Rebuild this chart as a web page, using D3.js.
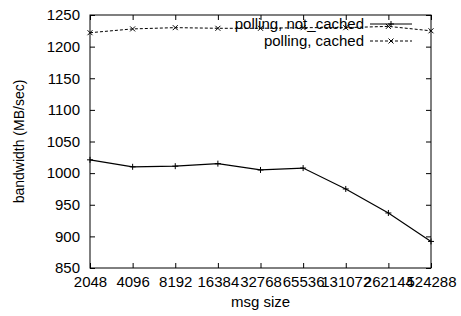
<!DOCTYPE html>
<html><head><meta charset="utf-8">
<script src="https://cdn.jsdelivr.net/npm/d3@7"></script>
<style>body{margin:0;background:#fff}svg{display:block}text{font-family:"Liberation Sans",Arial,sans-serif;fill:#000}</style>
</head><body>
<script>
const categories = ["2048","4096","8192","16384","32768","65536","131072","262144","524288"];
const notCached = [1021,1010,1011,1015,1005,1008,975,937,892];
const cached = [1222,1228,1230,1229,1229,1230,1230,1232,1225];
const yTicks = [850,900,950,1000,1050,1100,1150,1200,1250];
const seriesNames = ["polling, not_cached","polling, cached"];

const W=461,H=316, L=90,R=431,T=15,B=268;
const svg=d3.select("body").append("svg").attr("width",W).attr("height",H);
const x=d3.scalePoint().domain(categories).range([L,R]);
const y=d3.scaleLinear().domain([850,1250]).range([B,T]);
const fs="15px";

// axes
const gx=svg.append("g").attr("transform",`translate(0,${B})`)
  .call(d3.axisBottom(x).tickSizeInner(-5).tickSizeOuter(0).tickPadding(10));
const gxt=svg.append("g").attr("transform",`translate(0,${T})`)
  .call(d3.axisTop(x).tickSizeInner(-5).tickSizeOuter(0).tickFormat(""));
const gy=svg.append("g").attr("transform",`translate(${L},0)`)
  .call(d3.axisLeft(y).tickValues(yTicks).tickFormat(d3.format("d")).tickSizeInner(-5).tickSizeOuter(0).tickPadding(10));
const gyr=svg.append("g").attr("transform",`translate(${R},0)`)
  .call(d3.axisRight(y).tickValues(yTicks).tickSizeInner(-5).tickSizeOuter(0).tickFormat(""));
[gx,gxt,gy,gyr].forEach(g=>{g.select(".domain").remove();g.selectAll("line").attr("stroke","#000");g.selectAll("text").style("font-size",fs).style("font-family","Liberation Sans, Arial, sans-serif");});
gx.selectAll("text").attr("dy","0.71em").attr("y",8);
svg.append("rect").attr("x",L).attr("y",T).attr("width",R-L).attr("height",B-T).attr("fill","none").attr("stroke","#000").attr("stroke-width",1);

svg.append("text").attr("x",(L+R)/2).attr("y",307).attr("text-anchor","middle").style("font-size",fs).text("msg size");
svg.append("text").attr("transform",`translate(24,${(T+B)/2}) rotate(-90)`).attr("text-anchor","middle").style("font-size","14px").text("bandwidth (MB/sec)");

const line=d3.line().x((d,i)=>x(categories[i])).y(d=>y(d));
function plus(g,cx,cy){g.append("path").attr("d",`M${cx-3},${cy}H${cx+3}M${cx},${cy-3}V${cy+3}`).attr("stroke","#000").attr("stroke-width",1);}
function cross(g,cx,cy){g.append("path").attr("d",`M${cx-2.5},${cy-2.5}L${cx+2.5},${cy+2.5}M${cx-2.5},${cy+2.5}L${cx+2.5},${cy-2.5}`).attr("stroke","#000").attr("stroke-width",1);}

const g=svg.append("g");
g.append("path").datum(notCached).attr("d",line).attr("fill","none").attr("stroke","#000").attr("stroke-width",1.2);
notCached.forEach((v,i)=>plus(g,x(categories[i]),y(v)));
g.append("path").datum(cached).attr("d",line).attr("fill","none").attr("stroke","#000").attr("stroke-width",1).attr("stroke-dasharray","3,2");
cached.forEach((v,i)=>cross(g,x(categories[i]),y(v)));

// legend
const lg=svg.append("g");
const rows=[24,41];
seriesNames.forEach((n,i)=>{
  lg.append("text").attr("x",364).attr("y",rows[i]).attr("dy","0.35em").attr("text-anchor","end").style("font-size",fs).text(n);
  const ln=lg.append("line").attr("x1",370).attr("x2",412).attr("y1",rows[i]).attr("y2",rows[i]).attr("stroke","#000");
  if(i===1) ln.attr("stroke-dasharray","3,2"); else ln.attr("stroke-width",1.2);
  if(i===0) plus(lg,391,rows[i]); else cross(lg,391,rows[i]);
});
</script>
</body></html>
